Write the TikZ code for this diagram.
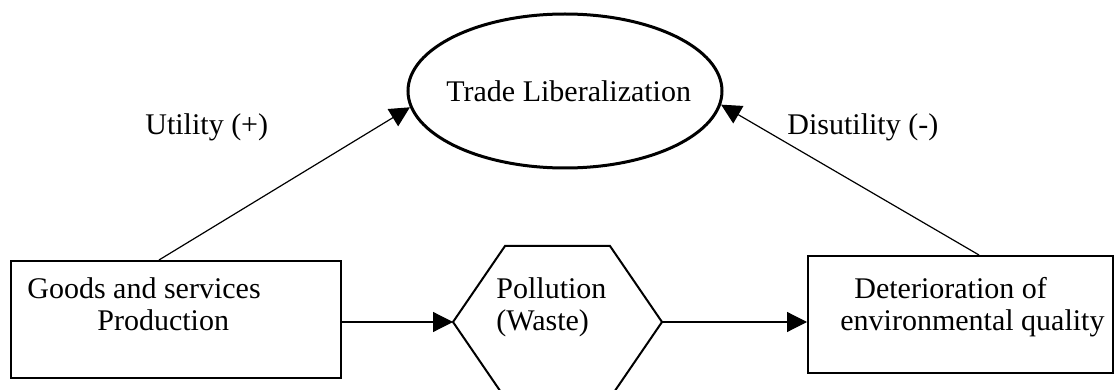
\documentclass[tikz,border=0pt]{standalone}
\usepackage{fontspec}
\setmainfont{Liberation Serif}
\usetikzlibrary{positioning,arrows.meta,shapes.geometric}

\begin{document}
\begin{tikzpicture}[x=0.5pt,y=-0.5pt,>={Triangle[length=10pt,width=10pt]},
  txt/.style={anchor=base west,inner sep=0pt,font=\fontsize{15}{17}\selectfont},
  boxnode/.style={draw,line width=1pt,minimum height=58.5pt,inner sep=0pt},
  link/.style={->,line width=0.6pt}]
 \useasboundingbox (0,0) rectangle (1116,390);
 % trade liberalization (ellipse)
 \node[draw,ellipse,line width=1.5pt,minimum width=157pt,minimum height=77pt,inner sep=0pt] (trade) at (565,91) {};
 \node[txt] (tradetxt) at (446,102) {Trade Liberalization};
 % boxes
 \node[boxnode,minimum width=165pt] (prodbox) at (176,319.5) {};
 \node[boxnode,minimum width=152.5pt] (detbox) at (960.5,314.5) {};
 \node[txt] (goods) at (27,299) {Goods and services};
 \node[txt] (prod) at (97,331) {Production};
 \node[txt] (deter) at (854,299) {Deterioration of};
 \node[txt] (envq) at (840,331) {environmental quality};
 % pollution (hexagon)
 \coordinate (hw) at (453,322);
 \coordinate (hnw) at (505,246);
 \coordinate (hne) at (610,246);
 \coordinate (he) at (662,322);
 \coordinate (hse) at (610,398);
 \coordinate (hsw) at (505,398);
 \draw[line width=1pt,line join=miter] (hw)--(hnw)--(hne)--(he)--(hse)--(hsw)--cycle;
 \node[txt] (poll) at (496,299) {Pollution};
 \node[txt] (waste) at (496,331) {(Waste)};
 % arrows
 \draw[link] (prodbox.east |- hw) -- (hw);
 \draw[link] (he) -- (detbox.west |- he);
 \draw[link] ([xshift=74.5pt]prodbox.north west) -- (trade.186);
 \draw[link] ([xshift=86pt]detbox.north west) -- (trade.-5);
 % labels
 \node[txt] (util) at (145,135) {Utility (+)};
 \node[txt] (disutil) at (787,135) {Disutility (-)};
\end{tikzpicture}
\end{document}
